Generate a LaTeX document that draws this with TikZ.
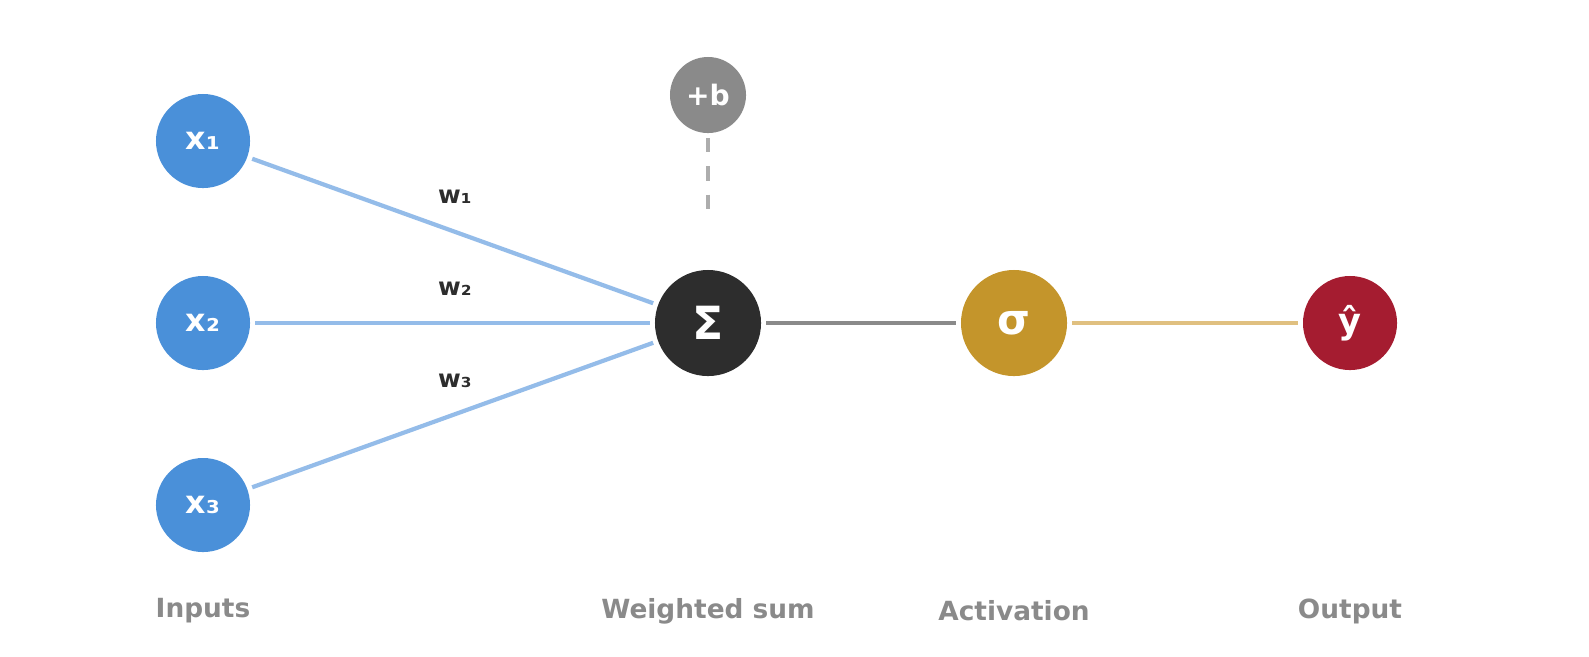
\documentclass[tikz,border=0pt]{standalone}
\usepackage{fontspec}
\setmainfont{DejaVu Sans}
\definecolor{inblue}{HTML}{4A90D9}
\definecolor{edgeblue}{HTML}{94BCE9}
\definecolor{sumdark}{HTML}{2D2D2D}
\definecolor{biasgray}{HTML}{8A8A8A}
\definecolor{actgold}{HTML}{C4952B}
\definecolor{edgegold}{HTML}{E0C080}
\definecolor{outred}{HTML}{A51C30}
\begin{document}
\begin{tikzpicture}[x=0.01cm,y=-0.01cm,
  neuron/.style={circle, inner sep=0pt, text=white, font=\bfseries\fontsize{9}{9}\selectfont, outer sep=1.5pt},
  capt/.style={text=biasgray, font=\bfseries\fontsize{7.5}{8}\selectfont},
  wlab/.style={text=sumdark, font=\bfseries\fontsize{7}{8}\selectfont},
  conn/.style={line width=1.2pt}]
\useasboundingbox (0,0) rectangle (1589,656);
% inputs
\node[neuron, fill=inblue, minimum size=0.94cm] (xa) at (203,141) {x₁};
\node[neuron, fill=inblue, minimum size=0.94cm] (xb) at (203,323) {x₂};
\node[neuron, fill=inblue, minimum size=0.94cm] (xc) at (203,505) {x₃};
% bias, sum, activation, output
\node[neuron, fill=biasgray, minimum size=0.76cm, font=\bfseries\fontsize{8}{8}\selectfont] (bias) at (708,95) {+b};
\node[neuron, fill=sumdark, minimum size=1.06cm, font=\bfseries\fontsize{13}{13}\selectfont] (sum) at (708,323) {Σ};
\node[neuron, fill=actgold, minimum size=1.06cm, font=\bfseries\fontsize{12}{12}\selectfont] (act) at (1014,323) {σ};
\node[neuron, fill=outred, minimum size=0.94cm, font=\bfseries\fontsize{10}{10}\selectfont] (out) at (1350,323) {ŷ};
% connectors
\draw[conn, edgeblue] (xa) -- (sum);
\draw[conn, edgeblue] (xb) -- (sum);
\draw[conn, edgeblue] (xc) -- (sum);
\draw[conn, biasgray!70, line width=0.9pt, dash pattern=on 4pt off 4pt, shorten >=12pt] (bias) -- (sum);
\draw[conn, biasgray] (sum) -- (act);
\draw[conn, edgegold] (act) -- (out);
% weights
\node[wlab] (wa) at (455,197) {w₁};
\node[wlab] (wb) at (455,289) {w₂};
\node[wlab] (wc) at (455,381) {w₃};
% captions
\node[capt] (ci) at (203,611) {Inputs};
\node[capt] (cs) at (708,611) {Weighted sum};
\node[capt] (ca) at (1014,611) {Activation};
\node[capt] (co) at (1350,611) {Output};
\end{tikzpicture}
\end{document}
